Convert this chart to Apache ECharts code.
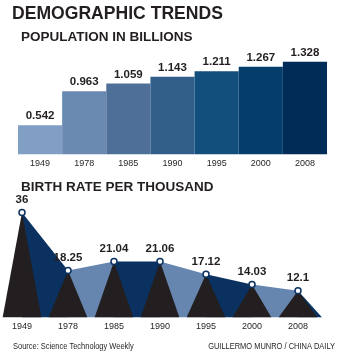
<!DOCTYPE html>
<html>
<head>
<meta charset="utf-8">
<script src="https://cdn.jsdelivr.net/npm/echarts@6/dist/echarts.min.js"></script>
<style>
html,body{margin:0;padding:0;background:#fff;}
#chart{width:342px;height:356px;}
</style>
</head>
<body>
<div id="chart"></div>
<script>
// ---- data ----
var years = ['1949', '1978', '1985', '1990', '1995', '2000', '2008'];
var population = [0.542, 0.963, 1.059, 1.143, 1.211, 1.267, 1.328];
var birthRate = [36, 18.25, 21.04, 21.06, 17.12, 14.03, 12.1];
var barColors = ['#819fc4', '#6a8ab2', '#4e6f98', '#325e8a', '#134f7d', '#053e6b', '#012c57'];

var NAVY = '#0a3160';
var LIGHT = '#6686b0';
var DARK = '#231f20';
var BIRTH_MIN = 4;

var chart = echarts.init(document.getElementById('chart'));
var labelFont = '"Liberation Sans Narrow", "Liberation Sans", Arial, sans-serif';
var boldFont = '"Liberation Sans", Arial, sans-serif';

function areaItem(params, api) {
  var i = api.value(0);
  var v = api.value(1);
  var p0 = api.coord([i, v]);
  var b0 = api.coord([i, BIRTH_MIN]);
  var step = api.coord([1, v])[0] - api.coord([0, v])[0];
  var pts;
  if (i < birthRate.length - 1) {
    var p1 = api.coord([i + 1, birthRate[i + 1]]);
    var b1 = api.coord([i + 1, BIRTH_MIN]);
    pts = [p0, p1, b1, b0];
  } else {
    pts = [p0, [p0[0] + step * 0.52, b0[1]], b0];
  }
  return {
    type: 'polygon',
    shape: { points: pts },
    style: { fill: (i % 2 === 0) ? NAVY : LIGHT }
  };
}

function triItem(params, api) {
  var i = api.value(0);
  var v = api.value(1);
  var p0 = api.coord([i, v]);
  var b0 = api.coord([i, BIRTH_MIN]);
  var step = api.coord([1, v])[0] - api.coord([0, v])[0];
  var hw = step * 0.42;
  return {
    type: 'polygon',
    shape: { points: [p0, [p0[0] + hw, b0[1]], [p0[0] - hw, b0[1]]] },
    style: { fill: DARK }
  };
}

var option = {
  backgroundColor: '#ffffff',
  animation: false,
  graphic: [
    { type: 'text', x: 12, y: 4, scaleX: 0.925, style: { text: 'DEMOGRAPHIC TRENDS', font: 'bold 19px ' + boldFont, fill: DARK } },
    { type: 'text', x: 21, y: 30, style: { text: 'POPULATION IN BILLIONS', font: 'bold 13.5px ' + boldFont, fill: DARK } },
    { type: 'text', x: 21, y: 180.5, style: { text: 'BIRTH RATE PER THOUSAND', font: 'bold 13.5px ' + boldFont, fill: DARK } },
    { type: 'text', x: 13, y: 342, scaleX: 0.83, style: { text: 'Source: Science Technology Weekly', font: '9px ' + labelFont, fill: DARK } },
    { type: 'text', x: 335, y: 342, scaleX: 0.83, style: { text: 'GUILLERMO MUNRO / CHINA DAILY', font: '9px ' + labelFont, fill: DARK, align: 'right' } }
  ],
  grid: [
    { left: 18, right: 15, top: 48, bottom: 201.7 },
    { left: 22, right: 44, top: 199.3, bottom: 38.7 }
  ],
  xAxis: [
    {
      gridIndex: 0, type: 'category', data: years, boundaryGap: true,
      axisLine: { show: false }, axisTick: { show: false }, splitLine: { show: false },
      axisLabel: { margin: 5, color: DARK, fontSize: 9, fontFamily: labelFont }
    },
    {
      gridIndex: 1, type: 'category', data: years, boundaryGap: false,
      axisLine: { show: false }, axisTick: { show: false }, splitLine: { show: false },
      axisLabel: { margin: 5, color: DARK, fontSize: 9, fontFamily: labelFont }
    }
  ],
  yAxis: [
    { gridIndex: 0, type: 'value', min: 0.18, max: 1.5, show: false, splitLine: { show: false } },
    { gridIndex: 1, type: 'value', min: BIRTH_MIN, max: 40, show: false, splitLine: { show: false } }
  ],
  series: [
    {
      type: 'bar', xAxisIndex: 0, yAxisIndex: 0,
      barCategoryGap: 0,
      data: population.map(function (v, i) { return { value: v, itemStyle: { color: barColors[i] } }; }),
      label: {
        show: true, position: 'top', distance: 3,
        color: DARK, fontSize: 11.5, fontWeight: 'bold', fontFamily: boldFont,
        formatter: function (p) { return p.value.toFixed(3); }
      }
    },
    {
      type: 'custom', xAxisIndex: 1, yAxisIndex: 1, z: 1,
      renderItem: areaItem,
      encode: { x: 0, y: 1 },
      data: birthRate.map(function (v, i) { return [i, v]; })
    },
    {
      type: 'custom', xAxisIndex: 1, yAxisIndex: 1, z: 2,
      renderItem: triItem,
      encode: { x: 0, y: 1 },
      data: birthRate.map(function (v, i) { return [i, v]; })
    },
    {
      type: 'line', xAxisIndex: 1, yAxisIndex: 1, z: 3,
      data: birthRate,
      symbol: 'circle', symbolSize: 6,
      lineStyle: { width: 0, opacity: 0 },
      itemStyle: { color: '#ffffff', borderColor: NAVY, borderWidth: 1.5 },
      label: {
        show: true, position: 'top', distance: 3,
        color: DARK, fontSize: 11.5, fontWeight: 'bold', fontFamily: boldFont
      }
    }
  ]
};
chart.setOption(option);
</script>
</body>
</html>
